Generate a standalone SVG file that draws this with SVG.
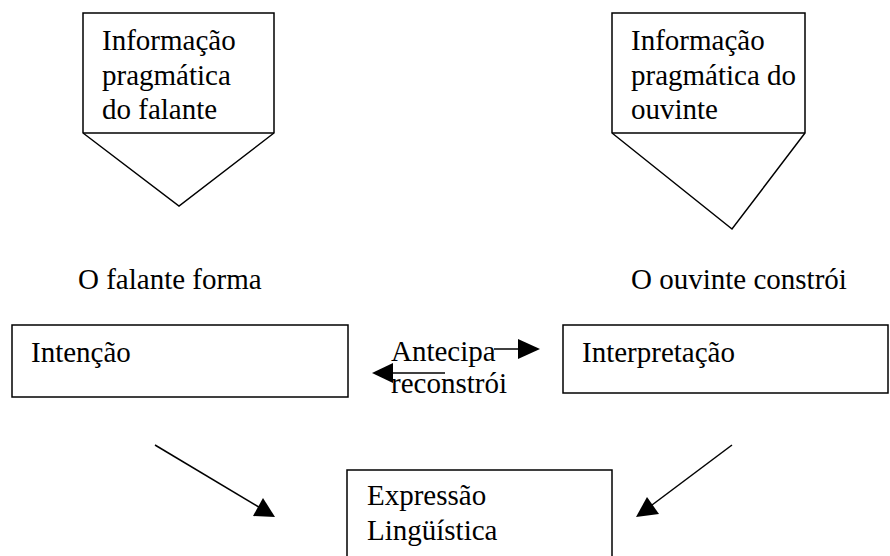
<svg xmlns="http://www.w3.org/2000/svg" width="890" height="556" viewBox="0 0 890 556">
<style>
.box{fill:#fff;stroke:#000;stroke-width:1.5}
.t{font-family:"Liberation Serif","Times New Roman",serif;font-size:29px;fill:#000}
.ln{stroke:#000;stroke-width:1.5;fill:none}
.hd{fill:#000;stroke:none}
</style>
<rect width="890" height="556" fill="#fff"/>
<g id="info-falante">
<polygon class="box" points="83,13 274,13 274,133 179,206 83,133"/>
<line class="ln" x1="83" y1="133" x2="274" y2="133"/>
<text class="t" x="102" y="50">Informação</text>
<text class="t" x="102" y="85">pragmática</text>
<text class="t" x="102" y="119">do falante</text>
</g>
<g id="info-ouvinte">
<polygon class="box" points="612,13 805,13 805,133 732,229 612,133"/>
<line class="ln" x1="612" y1="133" x2="805" y2="133"/>
<text class="t" x="631" y="50">Informação</text>
<text class="t" x="631" y="85">pragmática do</text>
<text class="t" x="631" y="119">ouvinte</text>
</g>
<g id="label-falante">
<text class="t" x="78" y="289">O falante forma</text>
</g>
<g id="label-ouvinte">
<text class="t" x="631" y="289">O ouvinte constrói</text>
</g>
<g id="intencao">
<rect class="box" x="12" y="325" width="336" height="72"/>
<text class="t" x="31" y="362">Intenção</text>
</g>
<g id="interpretacao">
<rect class="box" x="563" y="325" width="325" height="68"/>
<text class="t" x="582" y="362">Interpretação</text>
</g>
<g id="expressao">
<rect class="box" x="347" y="470" width="265" height="100"/>
<text class="t" x="367" y="505">Expressão</text>
<text class="t" x="367" y="540">Lingüística</text>
</g>
<g id="middle-labels">
<text class="t" x="391" y="361">Antecipa</text>
<text class="t" x="391" y="393">reconstrói</text>
</g>
<g id="connectors">
<line class="ln" x1="494" y1="349" x2="520" y2="349"/>
<polygon class="hd" points="540,349 518,339 518,359"/>
<line class="ln" x1="445" y1="373" x2="390" y2="373"/>
<polygon class="hd" points="372,373 393,363 393,383"/>
<line class="ln" x1="155" y1="445" x2="262" y2="509"/>
<polygon class="hd" points="275,517 253,516 263,498"/>
<line class="ln" x1="732" y1="445" x2="648" y2="508"/>
<polygon class="hd" points="636,517 647,497 659,514"/>
</g>
</svg>
